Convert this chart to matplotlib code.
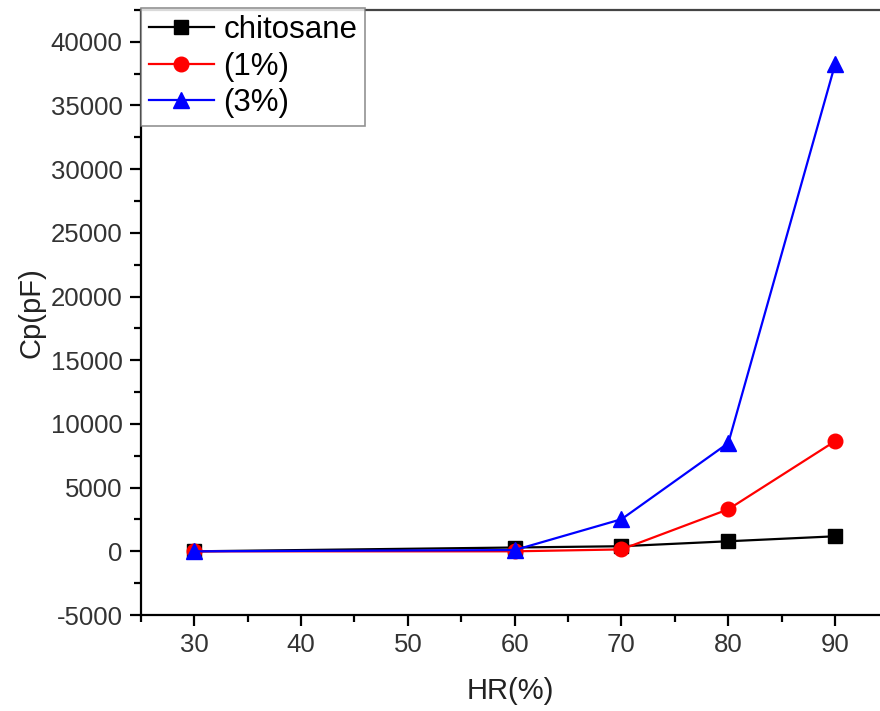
import matplotlib
matplotlib.use("Agg")
import matplotlib.pyplot as plt
from matplotlib.ticker import MultipleLocator

plt.rcParams['font.family'] = ['Liberation Sans', 'DejaVu Sans']
plt.rcParams['axes.unicode_minus'] = False

hr = [30, 60, 70, 80, 90]
chitosane = [0, 300, 400, 790, 1180]
pct1 = [0, 0, 150, 3300, 8650]
pct3 = [0, 100, 2520, 8500, 38250]

fig = plt.figure(figsize=(8.8, 7.11), dpi=100)
ax = fig.add_axes([0.160, 0.135, 0.840, 0.851])

ax.plot(hr, chitosane, color='black', marker='s', markersize=9.5, lw=1.6, label='chitosane')
ax.plot(hr, pct1, color='red', marker='o', markersize=10.5, lw=1.6, label='(1%)')
ax.plot(hr, pct3, color='blue', marker='^', markersize=11.5, lw=1.6, label='(3%)')

ax.set_xlim(25, 94.2)
ax.set_ylim(-5000, 42500)
ax.xaxis.set_major_locator(MultipleLocator(10))
ax.xaxis.set_minor_locator(MultipleLocator(5))
ax.yaxis.set_major_locator(MultipleLocator(5000))
ax.yaxis.set_minor_locator(MultipleLocator(2500))

ax.spines['right'].set_visible(False)
for s in ['left', 'bottom', 'top']:
    ax.spines[s].set_linewidth(1.6)
ax.spines['top'].set_color('#444444')

ax.tick_params(which='major', direction='out', length=8, width=1.6,
               labelsize=18.5, labelcolor='#333333', pad=5)
ax.tick_params(which='minor', direction='out', length=5, width=1.6)
ax.tick_params(top=False, right=False)

ax.set_xlabel('HR(%)', fontsize=21, color='#222222', labelpad=14)
ax.set_ylabel('Cp(pF)', fontsize=21, color='#222222', labelpad=4)

leg = ax.legend(loc='upper left', bbox_to_anchor=(0, 1.004), fontsize=22.5,
                frameon=True, fancybox=False, borderaxespad=0,
                handlelength=2.1, handletextpad=0.3, labelspacing=0.2,
                borderpad=0.25)
leg.get_frame().set_edgecolor('#777777')
leg.get_frame().set_linewidth(1.2)

fig.savefig('out.png', dpi=100)
